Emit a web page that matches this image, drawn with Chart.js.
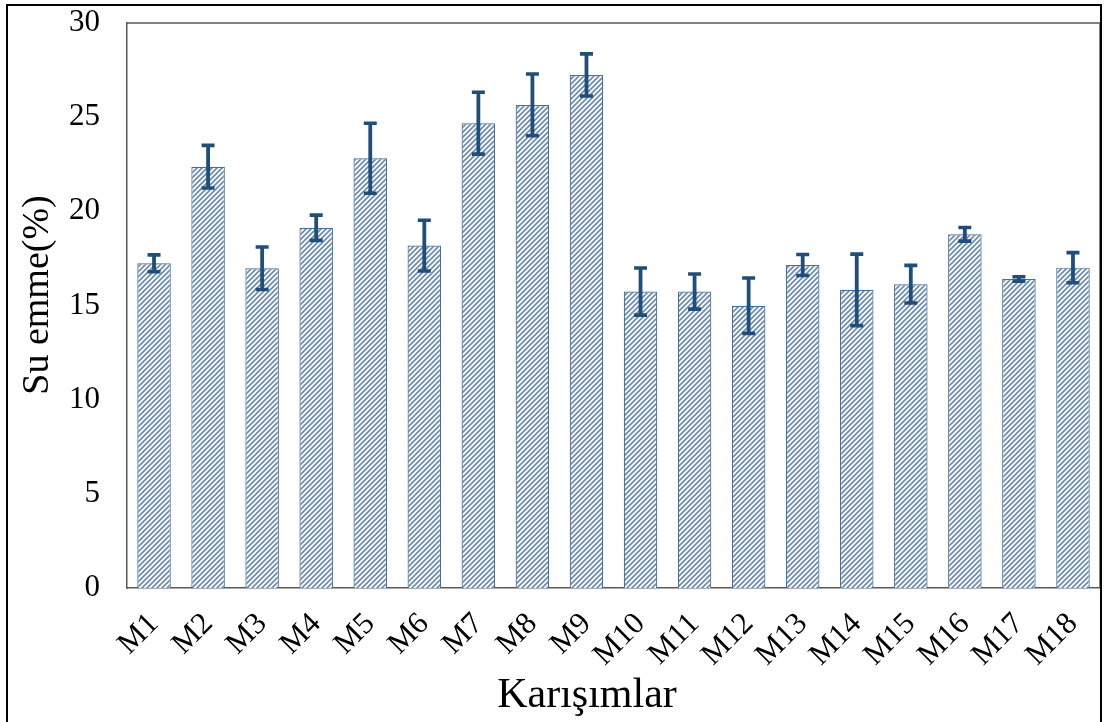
<!DOCTYPE html>
<html>
<head>
<meta charset="utf-8">
<script src="https://cdn.jsdelivr.net/npm/chart.js@4/dist/chart.umd.min.js"></script>
<style>
  html, body { margin: 0; padding: 0; background: #ffffff; }
  #wrap { position: relative; width: 1105px; height: 722px; }
</style>
</head>
<body>
<div id="wrap"><canvas id="c" width="1105" height="722"></canvas></div>
<script>
// Mixture labels and water absorption (%) with standard deviations
const mixtures = ['M1','M2','M3','M4','M5','M6','M7','M8','M9','M10','M11','M12','M13','M14','M15','M16','M17','M18'];
const absorption = [17.24, 22.37, 16.98, 19.13, 22.82, 18.18, 24.68, 25.65, 27.24, 15.74, 15.74, 14.99, 17.15, 15.83, 16.13, 18.78, 16.41, 17.01];
const deviation = [0.45, 1.13, 1.13, 0.67, 1.86, 1.35, 1.64, 1.64, 1.12, 1.25, 0.93, 1.47, 0.56, 1.90, 1.00, 0.36, 0.12, 0.80];
const yTicks = [0, 5, 10, 15, 20, 25, 30];

const SERIF = '"Liberation Serif", "Times New Roman", serif';

// Diagonal hatch fill for the bars
function hatchPattern() {
  const s = 5;
  const t = document.createElement('canvas');
  t.width = s; t.height = s;
  const g = t.getContext('2d');
  g.fillStyle = '#ffffff';
  g.fillRect(0, 0, s, s);
  g.strokeStyle = '#6f8cb4';
  g.lineWidth = 1.8;
  g.beginPath();
  g.moveTo(-1, s + 1); g.lineTo(s + 1, -1);
  g.moveTo(-s / 2 - 1, s / 2 + 1); g.lineTo(s / 2 + 1, -s / 2 - 1);
  g.moveTo(s / 2 - 1, 3 * s / 2 + 1); g.lineTo(3 * s / 2 + 1, s / 2 - 1);
  g.stroke();
  return g.createPattern(t, 'repeat');
}

// Frame, plot box, axis titles and error bars
const decorations = {
  id: 'decorations',
  beforeDraw(chart) {
    const ctx = chart.ctx;
    ctx.save();
    ctx.fillStyle = '#ffffff';
    ctx.fillRect(0, 0, chart.width, chart.height);
    ctx.restore();
  },
  afterDatasetsDraw(chart) {
    const ctx = chart.ctx;
    const y = chart.scales.y;
    const meta = chart.getDatasetMeta(0);
    ctx.save();
    ctx.strokeStyle = '#1f4e79';
    ctx.lineCap = 'butt';
    meta.data.forEach((bar, i) => {
      const v = absorption[i], e = deviation[i];
      const yt = y.getPixelForValue(v + e);
      const yb = y.getPixelForValue(v - e);
      const x = bar.x;
      ctx.lineWidth = 3.8;
      ctx.beginPath();
      ctx.moveTo(x, yt); ctx.lineTo(x, yb);
      ctx.stroke();
      ctx.lineWidth = 3.6;
      ctx.beginPath();
      ctx.moveTo(x - 6.5, yt); ctx.lineTo(x + 6.5, yt);
      ctx.moveTo(x - 6.5, yb); ctx.lineTo(x + 6.5, yb);
      ctx.stroke();
    });
    ctx.restore();
  },
  afterDraw(chart) {
    const ctx = chart.ctx;
    const a = chart.chartArea;
    ctx.save();
    // plot box top and right edges
    ctx.strokeStyle = '#595959';
    ctx.lineWidth = 1.5;
    ctx.beginPath();
    ctx.moveTo(a.left, a.top); ctx.lineTo(a.right, a.top); ctx.lineTo(a.right, a.bottom);
    ctx.stroke();
    // outer frame
    ctx.strokeStyle = '#000000';
    ctx.lineWidth = 2;
    ctx.beginPath();
    ctx.moveTo(7, 730); ctx.lineTo(7, 5); ctx.lineTo(1101, 5); ctx.lineTo(1101, 730);
    ctx.stroke();
    // axis titles
    ctx.fillStyle = '#000000';
    ctx.textAlign = 'center';
    ctx.textBaseline = 'middle';
    ctx.font = '42px ' + SERIF;
    ctx.fillText('Karışımlar', 587, 696);
    ctx.translate(38, 295);
    ctx.rotate(-Math.PI / 2);
    ctx.font = '38px ' + SERIF;
    ctx.fillText('Su emme(%)', 0, 0);
    ctx.restore();
  }
};

function zeroPadding(axis) {
  axis.paddingLeft = 0; axis.paddingRight = 0;
  axis.paddingTop = 0; axis.paddingBottom = 0;
}

new Chart(document.getElementById('c'), {
  type: 'bar',
  data: {
    labels: mixtures,
    datasets: [{
      data: absorption,
      backgroundColor: hatchPattern(),
      borderColor: '#41719c',
      borderWidth: 1.2,
      barPercentage: 0.62,
      categoryPercentage: 1.0
    }]
  },
  options: {
    responsive: false,
    animation: false,
    devicePixelRatio: 1,
    layout: { padding: { left: 0, right: 5, top: 23, bottom: 0 } },
    plugins: { legend: { display: false }, tooltip: { enabled: false } },
    scales: {
      x: {
        grid: { display: false, drawTicks: false },
        border: { display: true, color: '#595959', width: 1.5 },
        ticks: {
          color: '#000000',
          font: { family: SERIF, size: 31 },
          maxRotation: 45, minRotation: 45,
          padding: 18,
          autoSkip: false
        },
        afterFit(axis) { axis.height = 134; zeroPadding(axis); }
      },
      y: {
        min: 0, max: 30,
        grid: { display: false, drawTicks: false },
        border: { display: true, color: '#595959', width: 1.5 },
        afterBuildTicks(axis) { axis.ticks = yTicks.map(v => ({ value: v })); },
        ticks: {
          color: '#000000',
          font: { family: SERIF, size: 31 },
          padding: 27
        },
        afterFit(axis) { axis.width = 127; zeroPadding(axis); }
      }
    }
  },
  plugins: [decorations]
});
</script>
</body>
</html>
